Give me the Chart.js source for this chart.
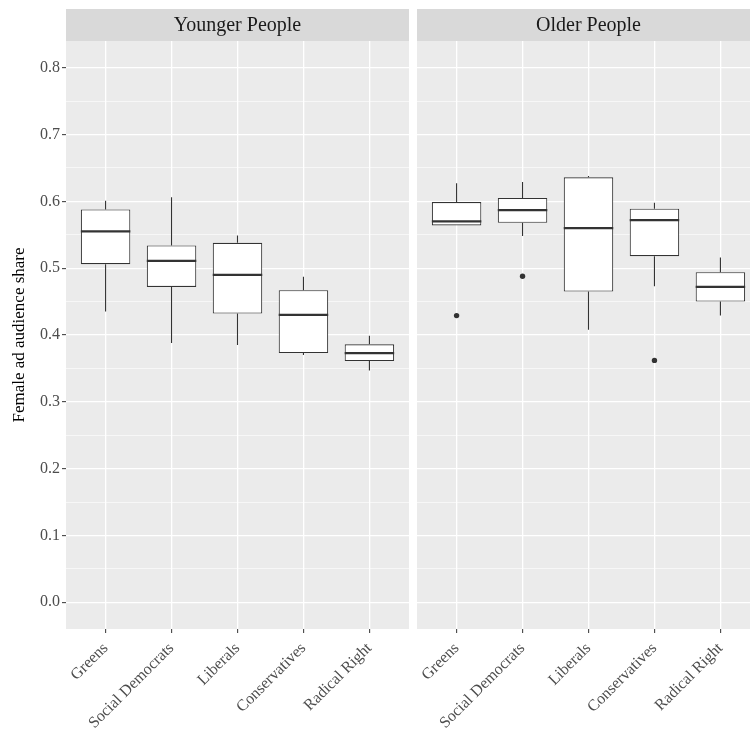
<!DOCTYPE html>
<html>
<head>
<meta charset="utf-8">
<title>Female ad audience share</title>
<script src="https://cdn.jsdelivr.net/npm/chart.js@4.4.1/dist/chart.umd.min.js"></script>
<style>
    html, body { margin: 0; padding: 0; background: #ffffff; overflow: hidden; }
    #wrap { position: relative; width: 750px; height: 731px; overflow: hidden; }
    .panel { position: absolute; top: 0; }
    #leftPanel { left: 0; }
    #rightPanel { left: 417px; }
</style>
</head>
<body>
<div id="wrap">
    <div class="panel" id="leftPanel"><canvas id="youngChart" width="409" height="731"></canvas></div>
    <div class="panel" id="rightPanel"><canvas id="oldChart" width="343" height="731"></canvas></div>
</div>
<script>
/* ===============================
   DATA
================================ */
const parties = ["Greens", "Social Democrats", "Liberals", "Conservatives", "Radical Right"];
const yTicks = [0, 0.1, 0.2, 0.3, 0.4, 0.5, 0.6, 0.7, 0.8];
const yMinorTicks = [0.05, 0.15, 0.25, 0.35, 0.45, 0.55, 0.65, 0.75];

// Younger People
const youngLower = [0.435, 0.388, 0.385, 0.370, 0.347];
const youngQ1 = [0.506, 0.472, 0.432, 0.373, 0.361];
const youngMedian = [0.555, 0.511, 0.490, 0.430, 0.373];
const youngQ3 = [0.588, 0.534, 0.538, 0.467, 0.386];
const youngUpper = [0.601, 0.606, 0.549, 0.487, 0.399];
const youngOutlierParty = [];
const youngOutlierValue = [];

// Older People
const oldLower = [0.564, 0.548, 0.408, 0.473, 0.429];
const oldQ1 = [0.564, 0.568, 0.465, 0.518, 0.450];
const oldMedian = [0.570, 0.587, 0.560, 0.572, 0.472];
const oldQ3 = [0.599, 0.605, 0.636, 0.589, 0.494];
const oldUpper = [0.627, 0.629, 0.638, 0.598, 0.516];
const oldOutlierParty = ["Greens", "Social Democrats", "Conservatives"];
const oldOutlierValue = [0.429, 0.488, 0.362];

/* ===============================
   STYLE
================================ */
const FONT = "'Liberation Serif', 'Times New Roman', serif";
const INK = "#333333";

/* ===============================
   PLUGIN: panel, strip, whiskers, medians
================================ */
const boxExtras = {
    id: "boxExtras",
    beforeDraw(chart, args, opts) {
        const { ctx, chartArea: a } = chart;
        ctx.save();
        ctx.fillStyle = "#EBEBEB";
        ctx.fillRect(a.left, a.top, a.right - a.left, a.bottom - a.top);
        ctx.fillStyle = "#D9D9D9";
        ctx.fillRect(a.left, 9, a.right - a.left, a.top - 9);
        ctx.fillStyle = "#1A1A1A";
        ctx.font = "20px " + FONT;
        ctx.textAlign = "center";
        ctx.textBaseline = "middle";
        ctx.fillText(opts.strip, (a.left + a.right) / 2, (9 + a.top) / 2 + 1);
        ctx.restore();
    },
    beforeDatasetsDraw(chart) {
        const ds = chart.data.datasets[0];
        const x = chart.scales.x, y = chart.scales.y;
        const ctx = chart.ctx;
        ctx.save();
        ctx.strokeStyle = INK;
        ctx.lineWidth = 1.1;
        ds.q1.forEach((q1, i) => {
            const px = x.getPixelForValue(i);
            ctx.beginPath();
            ctx.moveTo(px, y.getPixelForValue(ds.upper[i]));
            ctx.lineTo(px, y.getPixelForValue(ds.q3[i]));
            ctx.moveTo(px, y.getPixelForValue(q1));
            ctx.lineTo(px, y.getPixelForValue(ds.lower[i]));
            ctx.stroke();
        });
        ctx.restore();
    },
    afterDatasetsDraw(chart) {
        const ds = chart.data.datasets[0];
        const meta = chart.getDatasetMeta(0);
        const y = chart.scales.y;
        const ctx = chart.ctx;
        ctx.save();
        ctx.strokeStyle = INK;
        ctx.lineWidth = 2.3;
        meta.data.forEach((bar, i) => {
            const py = y.getPixelForValue(ds.median[i]);
            ctx.beginPath();
            ctx.moveTo(bar.x - bar.width / 2, py);
            ctx.lineTo(bar.x + bar.width / 2, py);
            ctx.stroke();
        });
        ctx.restore();
    }
};

/* ===============================
   BUILD ONE PANEL
================================ */
function buildPanel(canvasId, strip, lower, q1, median, q3, upper, outParty, outValue, showY) {
    const ctx = document.getElementById(canvasId);

    return new Chart(ctx, {
        type: "bar",
        data: {
            datasets: [{
                type: "bar",
                data: parties.map((p, i) => ({ x: i, y: [q1[i], q3[i]] })),
                lower: lower,
                q1: q1,
                median: median,
                q3: q3,
                upper: upper,
                backgroundColor: "#ffffff",
                borderColor: INK,
                borderWidth: 1.1,
                borderSkipped: false,
                barPercentage: 0.75,
                categoryPercentage: 1
            }, {
                type: "scatter",
                data: outParty.map((p, i) => ({ x: parties.indexOf(p), y: outValue[i] })),
                backgroundColor: INK,
                borderWidth: 0,
                pointRadius: 2.7
            }]
        },
        options: {
            responsive: false,
            animation: false,
            devicePixelRatio: 1,
            layout: { autoPadding: false, padding: { top: 41, left: 0, right: 0, bottom: 0 } },
            plugins: {
                legend: { display: false },
                tooltip: { enabled: false },
                boxExtras: { strip: strip }
            },
            scales: {
                x: {
                    type: "linear",
                    min: -0.6,
                    max: 4.6,
                    offset: false,
                    afterBuildTicks: s => { s.ticks = parties.map((p, i) => ({ value: i })); },
                    afterFit: s => { s.height = 102; s.paddingLeft = 0; s.paddingRight = 0; },
                    ticks: {
                        callback: v => parties[v],
                        autoSkip: false,
                        minRotation: 45,
                        maxRotation: 45,
                        padding: 6,
                        color: "#4D4D4D",
                        font: { family: FONT, size: 16 }
                    },
                    grid: {
                        offset: false,
                        color: "#ffffff",
                        lineWidth: 1.3,
                        tickColor: INK,
                        tickLength: 4,
                        tickWidth: 1
                    },
                    border: { display: false }
                },
                y: {
                    type: "linear",
                    min: -0.04,
                    max: 0.84,
                    afterBuildTicks: s => {
                        s.ticks = yTicks.concat(yMinorTicks).map(v => ({ value: v }));
                    },
                    afterFit: s => { s.width = showY ? 66 : 0; },
                    ticks: {
                        display: showY,
                        autoSkip: false,
                        callback: v => yTicks.includes(v) ? v.toFixed(1) : "",
                        padding: 2,
                        color: "#4D4D4D",
                        font: { family: FONT, size: 16 }
                    },
                    grid: {
                        color: "#ffffff",
                        lineWidth: c => yTicks.includes(c.tick.value) ? 1.3 : 0.6,
                        drawTicks: showY,
                        tickColor: c => yTicks.includes(c.tick.value) ? INK : "rgba(0,0,0,0)",
                        tickLength: 4,
                        tickWidth: 1
                    },
                    border: { display: false },
                    title: {
                        display: showY,
                        text: "Female ad audience share",
                        color: "#000000",
                        font: { family: FONT, size: 17 },
                        padding: { top: 9, bottom: 0 }
                    }
                }
            }
        },
        plugins: [boxExtras]
    });
}

/* ===============================
   INIT
================================ */
buildPanel("youngChart", "Younger People", youngLower, youngQ1, youngMedian, youngQ3, youngUpper,
    youngOutlierParty, youngOutlierValue, true);
buildPanel("oldChart", "Older People", oldLower, oldQ1, oldMedian, oldQ3, oldUpper,
    oldOutlierParty, oldOutlierValue, false);
</script>
</body>
</html>
